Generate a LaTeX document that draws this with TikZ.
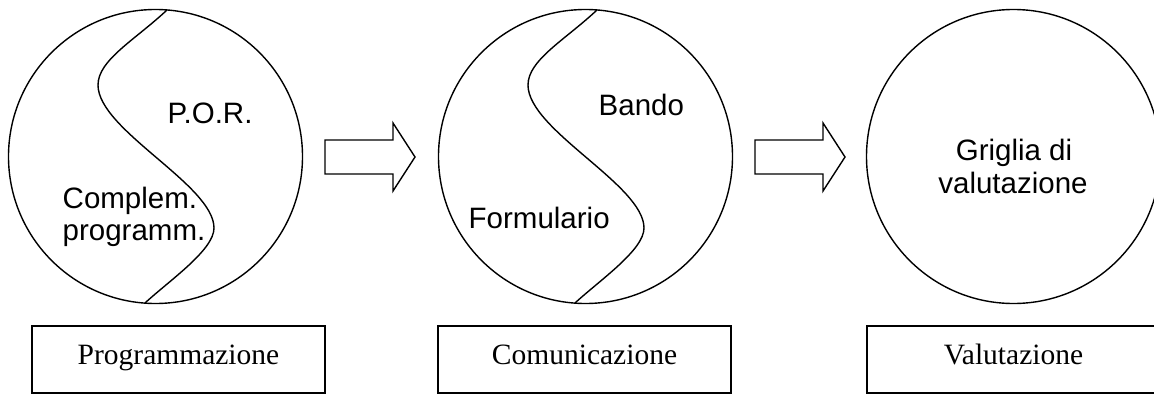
\documentclass[tikz,border=0pt]{standalone}
\usepackage{fontspec}
\setmainfont{Liberation Serif}
\newfontfamily\arialfont{Liberation Sans}

\begin{document}
\begin{tikzpicture}[x=1pt, y=-1pt, line width=1.4pt,
        fase/.style={draw, circle, minimum size=294pt, inner sep=0pt},
        voce/.style={font=\arialfont\fontsize{29.5}{33}\selectfont, inner sep=0pt},
        riquadro/.style={draw, rectangle, minimum width=293pt, minimum height=67pt,
            inner sep=0pt, text height=20pt, text depth=11pt,
            font=\fontsize{29.5}{33}\selectfont}]
        \useasboundingbox (0,0) rectangle (1154,394);

        % le tre fasi
        \node[fase] (c1) at (155.5,156.5) {};
        \node[fase] (c2) at (585.5,156.5) {};
        \node[fase] (c3) at (1013.5,156.5) {};

        % linea a S nelle prime due
        \foreach \c in {c1,c2}
            \draw[shift={(\c.center)}] (11.5,-146.5)
                .. controls (-20.5,-116.5) and (-57.5,-96.5) .. (-57.5,-71.5)
                .. controls (-57.5,-26.5) and (58.5,28.5) .. (58.5,71.5)
                .. controls (58.5,93.5) and (14.5,123.5) .. (-10.5,146.5);

        % frecce a blocco
        \foreach \x in {325,755}
            \draw (\x,140) -- ++(68,0) -- ++(0,-17) -- ++(22,34) -- ++(-22,34)
                -- ++(0,-17) -- ++(-68,0) -- cycle;

        \node[voce, anchor=base west] (por) at (167,123) {P.O.R.};
        \node[voce, anchor=base west] (compl) at (62,208) {Complem.};
        \node[voce, anchor=base west] (progr) at (62,240) {programm.};

        \node[voce, anchor=base west] (bando) at (598,115) {Bando};
        \node[voce, anchor=base west] (form) at (468,228) {Formulario};

        \node[voce, anchor=base] (griglia) at (1014,160) {Griglia di};
        \node[voce, anchor=base] (valut) at (1013,193) {valutazione};

        \node[riquadro] (prog) at (178.5,359.5) {Programmazione};
        \node[riquadro] (com) at (584.5,359.5) {Comunicazione};
        \node[riquadro] (val) at (1013.5,359.5) {Valutazione};
\end{tikzpicture}
\end{document}
